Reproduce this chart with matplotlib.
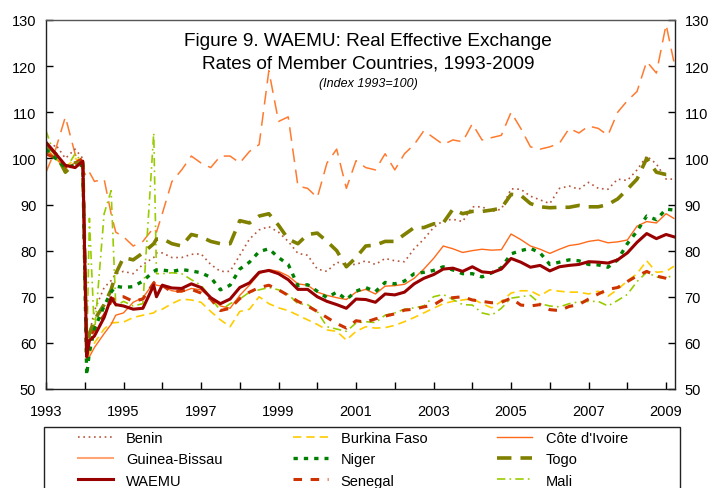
import matplotlib
matplotlib.use("Agg")
import matplotlib.pyplot as plt
from matplotlib.lines import Line2D
from matplotlib.patches import Rectangle

plt.rcParams["font.family"] = ["Liberation Sans", "DejaVu Sans"]

# decimal years (quarterly, with extra points around the 1994 devaluation)
years = [1993.0, 1993.25, 1993.5, 1993.75, 1993.95, 1994.05, 1994.12, 1994.25,
         1994.5, 1994.68, 1994.8, 1995.0, 1995.25, 1995.5, 1995.78, 1995.85,
         1996.0, 1996.25, 1996.5, 1996.75, 1997.0, 1997.25, 1997.5, 1997.75,
         1998.0, 1998.25, 1998.5, 1998.75, 1999.0, 1999.25, 1999.5, 1999.75,
         2000.0, 2000.25, 2000.5, 2000.75, 2001.0, 2001.25, 2001.5, 2001.75,
         2002.0, 2002.25, 2002.5, 2002.75, 2003.0, 2003.25, 2003.5, 2003.75,
         2004.0, 2004.25, 2004.5, 2004.75, 2005.0, 2005.25, 2005.5, 2005.75,
         2006.0, 2006.25, 2006.5, 2006.75, 2007.0, 2007.25, 2007.5, 2007.75,
         2008.0, 2008.25, 2008.5, 2008.75, 2009.0, 2009.2]

benin = [101, 103, 100, 102, 100, 58, 62, 67, 72, 73.5, 75, 75.5, 75, 77, 78.5, 79.5,
         79.5, 78.5, 78.5, 79.2, 79.3, 77, 75.5, 75.5, 79, 82.5, 84.5, 85.2,
         84, 82, 79.4, 79, 76, 75.5, 77.5, 77, 77, 77.8, 77, 78.3,
         77.8, 77.6, 80.4, 82.5, 85, 86.5, 86.8, 86.3, 89.5, 89.5, 88.5, 89,
         93.4, 93.3, 91.8, 91, 90.2, 93.5, 94, 93.3, 94.8, 93.5, 93.3, 95.5,
         95.2, 97.5, 100.5, 98.8, 95.5, 95.5]
burkina = [102, 100, 98, 100, 99, 56, 58, 60, 63, 64.3, 64.4, 64.5, 65.5, 66, 66.5, 67,
           67.3, 68.5, 69.5, 69.3, 68.8, 66.8, 65, 63.5, 66.8, 67.3, 70, 68.5,
           67.6, 67, 66, 65, 64, 62.8, 62.5, 60.6, 62.5, 63.5, 63.2, 63.3,
           63.8, 64.6, 65.5, 66.5, 67.5, 68.5, 69, 69.3, 69.6, 68.5, 67.6, 69,
           70.8, 71.3, 71.3, 70.2, 71.5, 71.2, 71, 71, 70.6, 71.2, 70.1, 71.6,
           73.4, 75, 77.8, 75.3, 75.5, 76.6]
cote_divoire = [102, 100, 98, 99, 99, 56, 57, 59, 62, 64, 66, 66.5, 68.8, 69.8, 73, 72.5,
                72.3, 71.3, 71, 71.8, 71.5, 69.8, 68, 67.5, 70.3, 72.5, 75, 75.9,
                75.5, 74.5, 72.8, 72.5, 71, 70.3, 69.8, 69.4, 71, 71.6, 70.6, 72.3,
                72.4, 72.7, 74, 76, 78.3, 81, 80.4, 79.6, 80, 80.3, 80.1, 80.2,
                83.6, 82.4, 81, 80.3, 79.4, 80.3, 81.1, 81.4, 82, 82.3, 81.7, 81.9,
                82.3, 85.3, 86.3, 86, 88, 87]
guinea_bissau = [97, 102, 109, 101, 97.5, 96, 97, 95, 95.5, 88, 84, 83, 81, 82, 85, 84,
                 88, 95, 97.5, 100.5, 99, 98, 100.5, 100.5, 99, 101.5, 103, 119,
                 108, 109, 94, 93.5, 91.5, 99, 102, 93.5, 99.5, 98, 97.5, 101,
                 97.5, 101, 103, 106, 104.5, 103, 104, 103.6, 107.5, 104, 104.5, 105,
                 110, 106.5, 102.5, 102, 102.5, 103.3, 106.5, 105.5, 107, 106.5, 105, 110,
                 112.5, 114.5, 121, 118.5, 129, 121]
niger = [102, 100, 98, 98.5, 98.5, 53, 58, 63, 68, 71, 72.3, 72, 72.2, 73.4, 75.5, 75.8,
         75.8, 75.5, 75.9, 75.6, 75.2, 74.2, 71.5, 72.5, 76, 77.5, 79.8, 80.4,
         78.5, 77, 72.4, 72.6, 71.2, 69.8, 71, 69.4, 71.2, 72, 71.1, 73.1,
         72.8, 73.4, 75, 75.3, 75.7, 76.5, 75.8, 75, 75, 74.3, 75.2, 76.3,
         79.3, 80, 80.5, 79.5, 77, 77.5, 78, 77.8, 77, 76.9, 76.4, 78,
         81.5, 84.2, 87.5, 86.7, 89, 88.8]
togo = [103, 101, 97, 99, 99, 58, 62, 65, 68.3, 71.5, 75, 78.5, 78, 79.5, 81.5, 82.5,
        82.6, 81.5, 81, 83.5, 83, 82, 81.5, 81.5, 86.5, 86, 87.5, 88,
        85.5, 82.5, 81.5, 83.5, 83.8, 82, 80, 76.5, 78.5, 81, 81.2, 82,
        82, 83.5, 85, 85, 85.8, 86, 89, 88, 88.5, 88.5, 88.8, 89.2,
        92.2, 92, 90.2, 89.5, 89.3, 89.4, 89.4, 89.8, 89.5, 89.5, 90, 91.2,
        93.3, 95.5, 100, 97, 96.5, 96.5]
waemu = [103.5, 101, 98.5, 98, 99.4, 57, 60.5, 61.5, 65.5, 69.8, 68.3, 68, 67.3, 67.5, 72.5, 70,
         72.5, 71.9, 71.8, 72.8, 72, 69.8, 68.5, 69.5, 72, 73, 75.3, 75.7,
         75, 73.7, 71.6, 71.6, 70, 69, 68.3, 67.5, 69.5, 69.4, 68.8, 70.6,
         70.4, 71, 72.8, 74, 74.8, 76, 76.2, 75.5, 76.5, 75.4, 75.2, 76,
         78.3, 77.5, 76.4, 76.8, 75.6, 76.5, 76.8, 77, 77.6, 77.5, 77.3, 78,
         79.5, 81.8, 83.7, 82.6, 83.5, 83]
senegal = [101, 100, 98, 99, 100, 58, 61, 63, 66, 69, 70, 70, 69, 69.5, 73, 73.5,
           72.5, 71, 71.3, 71.6, 70.8, 69.5, 67, 67.5, 69.6, 71, 72, 72.5,
           71.5, 70.3, 69, 68, 66.8, 65.5, 64.2, 63.2, 64.8, 64.5, 65.2, 65.8,
           66.3, 67.1, 67.3, 67.8, 68.2, 69.5, 69.8, 70, 69.3, 69, 68.7, 68.8,
           69.7, 68.2, 68, 68.3, 67.2, 67, 67.9, 68.3, 69.5, 70.6, 71.6, 72,
           73.3, 74.5, 75.5, 74.5, 74, 73.4]
mali = [106, 100, 97.5, 101, 99, 57, 87, 62, 88, 93, 68, 69, 68, 68.5, 105.5, 75,
        75, 75.2, 75, 73.7, 72.5, 69.8, 67, 68.5, 69.5, 71, 71.5, 72,
        71.5, 70.5, 68.5, 68.3, 66.8, 63.5, 63, 62.5, 64.3, 64.6, 64.4, 66,
        66.5, 67.3, 67.6, 68, 70, 70.5, 69.4, 68.3, 68.2, 66.5, 66, 67.5,
        69.7, 70, 70.3, 68.5, 68, 67.8, 68.5, 68.9, 69, 69, 68, 69.2,
        70.5, 73.3, 75.3, 74.3, 74, 74.8]

year_ticks = list(range(1993, 2010))
y_ticks = [50, 60, 70, 80, 90, 100, 110, 120, 130]

fig = plt.figure(figsize=(7.13, 4.89), dpi=100)
ax = fig.add_axes([46 / 713, 1 - 390 / 489, 629 / 713, 369 / 489])

ax.plot(years, guinea_bissau, color="#FF7A2E", lw=1.1, ls=(0, (9, 5)))
ax.plot(years, benin, color="#B5563A", lw=1.2, ls=(0, (1, 2.2)))
ax.plot(years, burkina, color="#FFCC00", lw=1.2, ls=(0, (5, 3)))
ax.plot(years, cote_divoire, color="#FF6A1A", lw=1.0)
ax.plot(years, mali, color="#99CC00", lw=1.2, ls=(0, (5, 2.5, 1, 2.5)))
ax.plot(years, senegal, color="#CC3300", lw=2.2, ls=(0, (2.8, 2.8)))
ax.plot(years, togo, color="#808000", lw=2.6, ls=(0, (4, 2.5)))
ax.plot(years, niger, color="#008000", lw=2.4, ls=(0, (1.3, 1.8)))
ax.plot(years, waemu, color="#990000", lw=2.2)

ax.set_xlim(1993, 2009.23)
ax.set_ylim(50, 130)
ax.set_xticks(year_ticks)
ax.set_xticklabels([str(y) if (y - 1993) % 2 == 0 else "" for y in year_ticks])
ax.set_yticks(y_ticks)
ax.tick_params(axis="x", direction="in", length=5, width=1, pad=11, labelsize=10.5)
ax.tick_params(axis="y", direction="in", length=5, width=1, labelsize=10.5,
               right=True, labelright=True, pad=7)
for side in ["left", "right", "top", "bottom"]:
    ax.spines[side].set_linewidth(1.0)
    ax.spines[side].set_color("#222222")
ax.spines["top"].set_color("#555555")

fig.text(0.516, 1 - 42 / 489, "Figure 9. WAEMU: Real Effective Exchange",
         ha="center", va="center", fontsize=13.7)
fig.text(0.516, 1 - 64 / 489, "Rates of Member Countries, 1993-2009",
         ha="center", va="center", fontsize=13.7)
fig.text(0.516, 1 - 84 / 489, "(Index 1993=100)", ha="center", va="center",
         fontsize=9, style="italic")

handles = [
    Line2D([], [], color="#B5563A", lw=1.2, ls=(0, (1, 2.2))),
    Line2D([], [], color="#FFA477", lw=1.5),
    Line2D([], [], color="#990000", lw=2.2),
    Line2D([], [], color="#FFCC00", lw=1.2, ls=(0, (5, 3))),
    Line2D([], [], color="#008000", lw=2.4, ls=(0, (1.3, 1.8))),
    Line2D([], [], color="#CC3300", lw=2.2, ls=(0, (2.8, 2.8))),
    Line2D([], [], color="#FF6A1A", lw=1.0),
    Line2D([], [], color="#808000", lw=2.6, ls=(0, (4, 2.5))),
    Line2D([], [], color="#99CC00", lw=1.2, ls=(0, (5, 2.5, 1, 2.5))),
]
labels = ["Benin", "Guinea-Bissau", "WAEMU", "Burkina Faso", "Niger", "Senegal",
          "Côte d'Ivoire", "Togo", "Mali"]
fig.legend(handles, labels, ncol=3, loc="upper left",
           bbox_to_anchor=(78 / 713, 1 - 432 / 489), frameon=False,
           fontsize=10.5, handlelength=2.4, handletextpad=0.9,
           columnspacing=4.8, labelspacing=0.5, borderpad=0, borderaxespad=0)
fig.patches.append(Rectangle((44 / 713, -0.2), 636 / 713, 0.2 + 1 - 428 / 489,
                             transform=fig.transFigure, fill=False,
                             edgecolor="#222222", lw=1.0))

fig.savefig("out.png", dpi=100)
